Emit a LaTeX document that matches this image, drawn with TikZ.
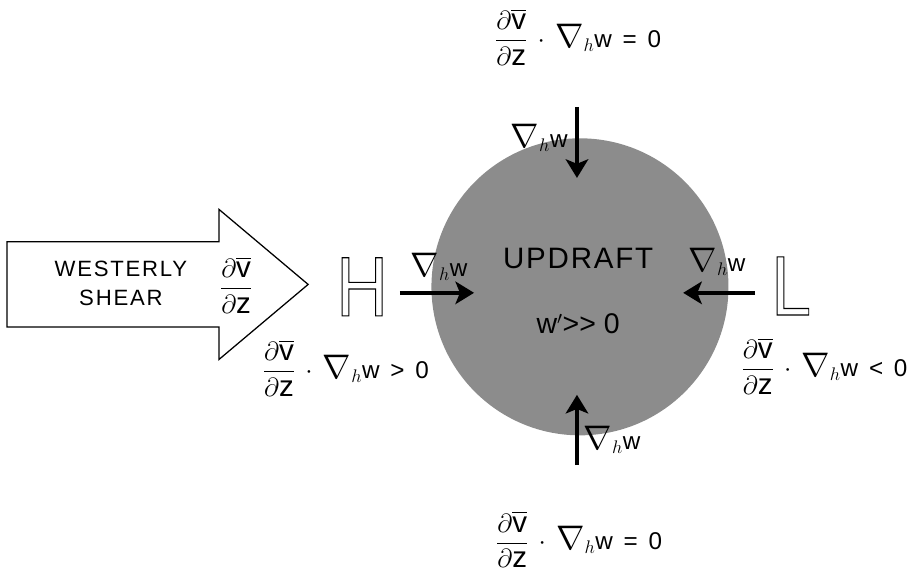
\documentclass[tikz,border=0pt]{standalone}
\usepackage{amsmath}
\usepackage{fontspec}
\setmainfont{Liberation Sans}
\usetikzlibrary{arrows.meta}

\newcommand{\gradw}{\scalebox{1.3}{$\nabla$}_{h}\mathrm{w}}
\newcommand{\dvdz}{\mbox{\fontsize{28}{30}\selectfont$\dfrac{\partial\overline{\mathrm{v}}}{\partial\mathrm{z}}$}}
\newcommand{\hollowtext}[1]{\special{pdf:literal direct 1 Tr 1.1 w}#1\special{pdf:literal direct 0 Tr}}

\begin{document}
\begin{tikzpicture}[
    lbl/.style={font=\fontsize{23}{27}\selectfont, inner sep=0pt, align=center},
    flow/.style={-{Stealth[length=0.62cm, width=0.75cm, inset=0.15cm]}, line width=3.8pt},
    hollow/.style={font=\fontsize{80}{82}\selectfont, inner sep=0pt, xscale=0.85, transform shape}
  ]
  \useasboundingbox (0,0) rectangle (30.43,19.13);

  % updraft region
  \node[circle, fill=black!45, minimum size=9.9cm, inner sep=0pt] (U) at (19.33,9.57) {};
  \node[font=\fontsize{28}{30}\selectfont\addfontfeature{LetterSpace=6}, inner sep=0pt] (up) at (19.27,10.53) {UPDRAFT};
  \node[font=\fontsize{27}{30}\selectfont, inner sep=0pt] (wp) at (19.27,8.33) {w$'${>}{>} 0};

  % westerly shear arrow
  \draw[line width=1.2pt, fill=white] (0.23,8.23) -- (7.3,8.23) -- (7.3,7.15) -- (10.27,9.65)
    -- (7.3,12.15) -- (7.3,11.07) -- (0.23,11.07) -- cycle;
  \node[lbl, font=\fontsize{21}{27}\selectfont\addfontfeature{LetterSpace=8}] (ws) at (4.03,9.68) {WESTERLY\\SHEAR};
  \node[lbl] (wsf) at (7.87,9.63) {$\dvdz$};

  % high and low
  \node[hollow] (H) at (12.07,9.57) {\hollowtext{H}};
  \node[hollow] (L) at (26.37,9.6) {\hollowtext{L}};

  % gradient arrows
  \coordinate (Ta) at (19.23,15.57); \coordinate (Tb) at (19.23,13.2);
  \coordinate (Ba) at (19.23,3.63);  \coordinate (Bb) at (19.23,5.97);
  \coordinate (La) at (13.33,9.37);  \coordinate (Lb) at (15.8,9.37);
  \coordinate (Ra) at (25.17,9.37);  \coordinate (Rb) at (22.77,9.37);
  \draw[flow] (Ta) -- (Tb);
  \draw[flow] (Ba) -- (Bb);
  \draw[flow] (La) -- (Lb);
  \draw[flow] (Ra) -- (Rb);
  \node[lbl] (gt) at (17.97,14.53) {$\gradw$};
  \node[lbl] (gl) at (14.63,10.23) {$\gradw$};
  \node[lbl] (gr) at (23.9,10.4)   {$\gradw$};
  \node[lbl] (gb) at (20.4,4.47)   {$\gradw$};

  % advection terms
  \node[lbl] (ft) at (19.27,17.9)  {$\dvdz\,\cdot\,\gradw$\, = \,0};
  \node[lbl] (fb) at (19.3,1.15)   {$\dvdz\,\cdot\,\gradw$\, = \,0};
  \node[lbl] (fl) at (11.53,6.87)  {$\dvdz\,\cdot\,\gradw$\, > \,0};
  \node[lbl] (fr) at (27.48,6.93)  {$\dvdz\,\cdot\,\gradw$\, < \,0};
\end{tikzpicture}
\end{document}
